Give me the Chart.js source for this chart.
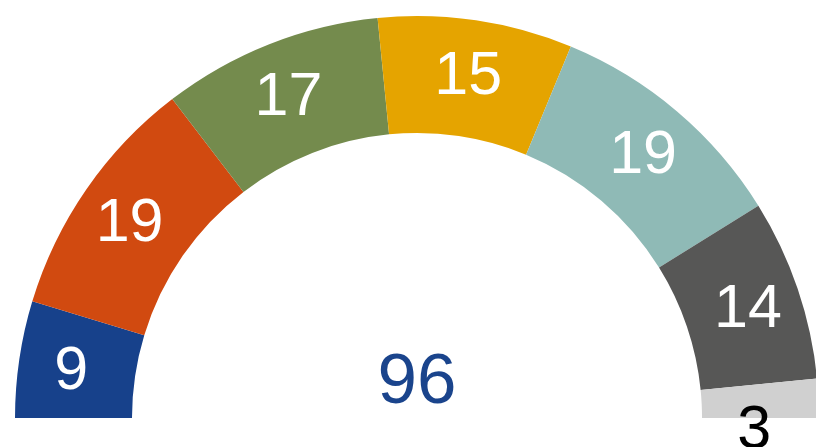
<!DOCTYPE html>
<html>
<head>
<meta charset="utf-8">
<script src="https://cdn.jsdelivr.net/npm/chart.js@4"></script>
<style>
  html, body { margin: 0; padding: 0; background: #fff; overflow: hidden; }
  #wrap { position: absolute; left: 0; top: 0; width: 834px; height: 447px; }
</style>
</head>
<body>
<div id="wrap"><canvas id="seats"></canvas></div>
<script>
// Seats per party, left to right
const parties = ['A', 'B', 'C', 'D', 'E', 'F', 'G'];
const seats = [9, 19, 17, 15, 19, 14, 3];
const colors = ['#17418b', '#d14a10', '#748b4d', '#e5a400', '#8fbab6', '#575756', '#d0d0d0'];
const labelColors = ['#fff', '#fff', '#fff', '#fff', '#fff', '#fff', '#000'];
const totalSeats = seats.reduce((a, b) => a + b, 0);

const FONT = '"Liberation Sans", Arial, Helvetica, sans-serif';

// draws the seat counts on the segments and the total in the middle
const seatLabels = {
    id: 'seatLabels',
    afterDatasetsDraw(chart) {
        const c = chart.ctx;
        const arcs = chart.getDatasetMeta(0).data;
        c.save();
        c.textAlign = 'center';
        c.textBaseline = 'alphabetic';
        const size = 61;
        c.font = size + 'px ' + FONT;
        arcs.forEach((arc, i) => {
            const p = arc.getProps(['x', 'y', 'startAngle', 'endAngle', 'innerRadius', 'outerRadius']);
            const mid = (p.startAngle + p.endAngle) / 2;
            let r = (p.innerRadius + p.outerRadius) / 2 + 6;
            let x = p.x + Math.cos(mid) * r;
            let y = p.y + Math.sin(mid) * r;
            if (p.endAngle - p.startAngle < 0.15) {
                // too thin: put the number under the baseline
                x = p.x + Math.cos(mid) * (r - 12);
                y = p.y + 8;
            }
            c.fillStyle = labelColors[i];
            c.fillText(String(seats[i]), x, y + size * 0.716 / 2);
        });
        const a0 = arcs[0];
        c.fillStyle = '#1a448c';
        c.font = '71px ' + FONT;
        c.fillText(String(totalSeats), a0.x, a0.y - 15);
        c.restore();
    }
};

new Chart(document.getElementById('seats'), {
    type: 'doughnut',
    data: {
        labels: parties,
        datasets: [{
            data: seats,
            backgroundColor: colors,
            borderWidth: 0
        }]
    },
    options: {
        responsive: true,
        maintainAspectRatio: false,
        animation: false,
        rotation: -90,
        circumference: 180,
        radius: 402,
        cutout: '70.9%',
        layout: { padding: { top: 16, bottom: 29, left: 0, right: 0 } },
        plugins: {
            legend: { display: false },
            tooltip: { enabled: false }
        }
    },
    plugins: [seatLabels]
});
</script>
</body>
</html>
